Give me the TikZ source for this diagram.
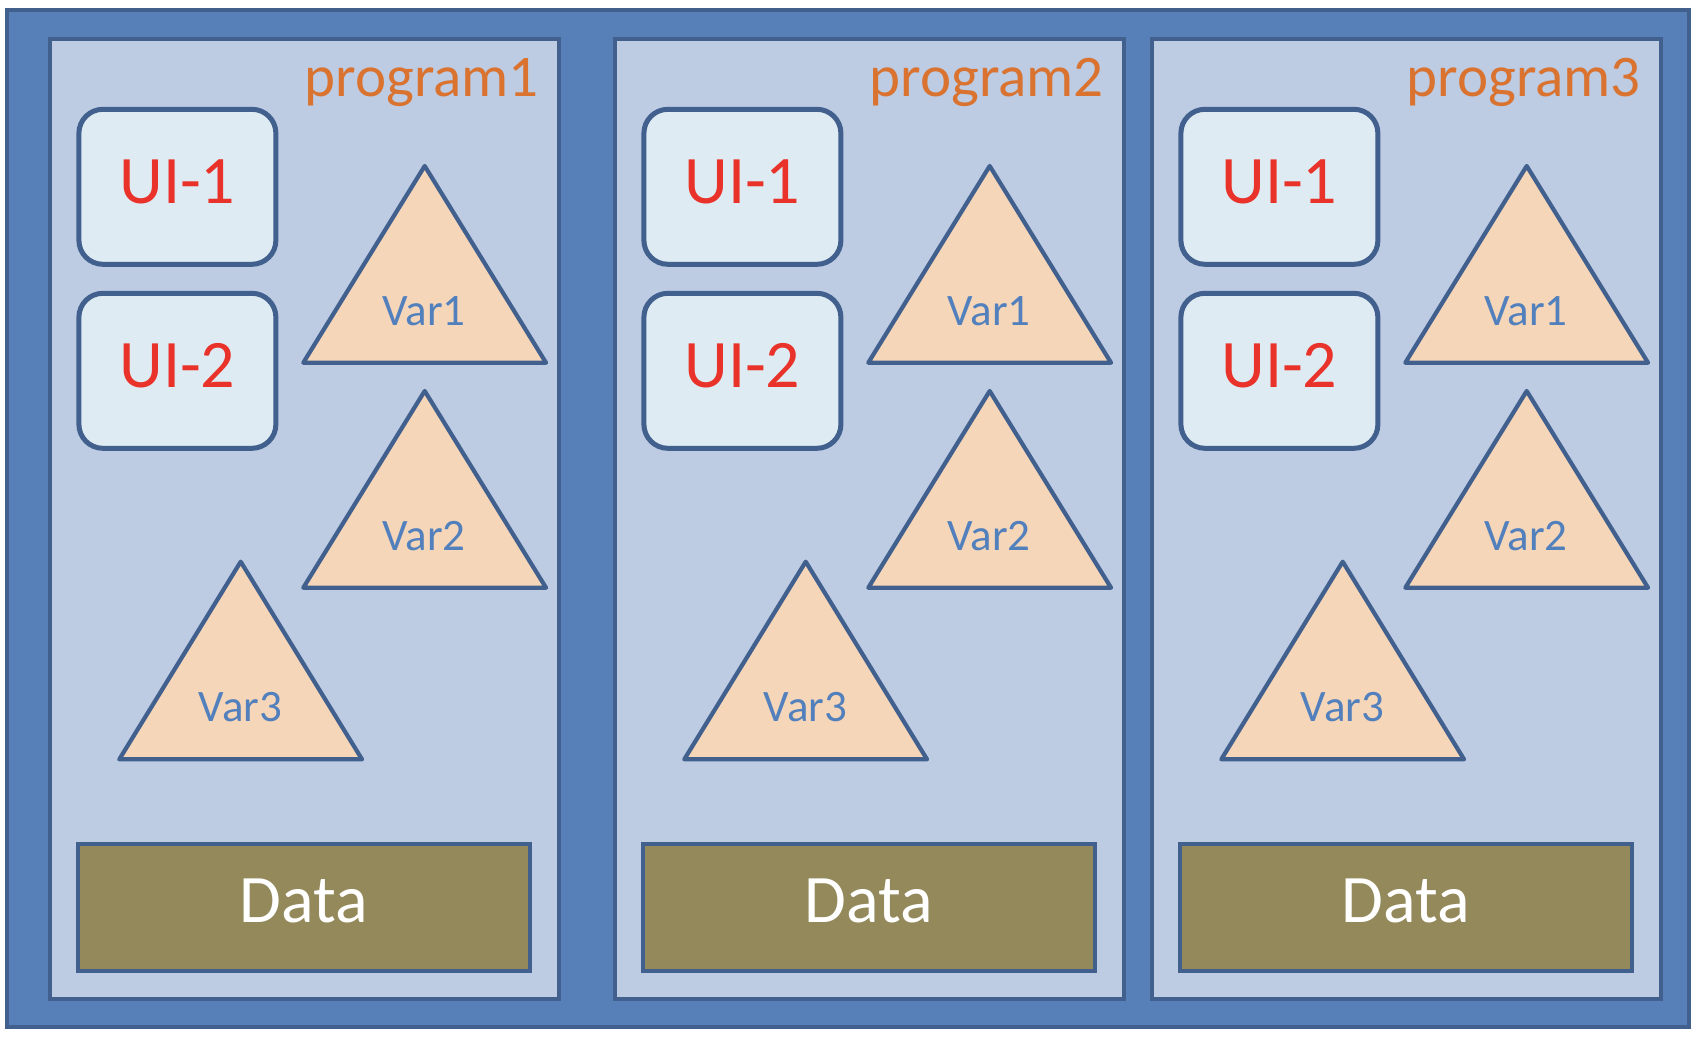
\documentclass[tikz,border=0pt]{standalone}
\usepackage{fontspec}
\setmainfont{Carlito}
\definecolor{outerblue}{HTML}{5880B8}
\definecolor{edgeblue}{HTML}{41608E}
\definecolor{panelfill}{HTML}{BDCBE3}
\definecolor{uifill}{HTML}{DFEBF2}
\definecolor{uired}{HTML}{E8322A}
\definecolor{trifill}{HTML}{F6D6B9}
\definecolor{vartext}{HTML}{5280BC}
\definecolor{progorange}{HTML}{D9732F}
\definecolor{datafill}{HTML}{93895B}
\begin{document}
\begin{tikzpicture}[x=1pt,y=-1pt,
  outerbox/.style={draw=edgeblue, fill=outerblue, line width=4.5pt, minimum width=1682pt, minimum height=1017pt, inner sep=0pt, outer sep=0pt},
  panelbox/.style={draw=edgeblue, fill=panelfill, line width=4.5pt, minimum width=509pt, minimum height=960pt, inner sep=0pt, outer sep=0pt},
  uibox/.style={draw=edgeblue, fill=uifill, line width=5pt, rounded corners=24pt, minimum width=197pt, minimum height=155pt, inner sep=0pt, outer sep=0pt},
  databox/.style={draw=edgeblue, fill=datafill, line width=4.5pt, minimum width=452pt, minimum height=127pt, inner sep=0pt, outer sep=0pt},
  tri/.style={draw=edgeblue, fill=trifill, line width=4.2pt, line join=round},
  uitext/.style={text=uired, font=\fontsize{68}{68}\selectfont, inner sep=0pt, anchor=base},
  vartxt/.style={text=vartext, font=\fontsize{45}{45}\selectfont, inner sep=0pt, anchor=base},
  datatxt/.style={text=white, font=\fontsize{68}{68}\selectfont, inner sep=0pt, anchor=base},
  progtxt/.style={text=progorange, font=\fontsize{59}{59}\selectfont, inner sep=0pt, anchor=base east}
]
\useasboundingbox (0,0) rectangle (1702,1044);
\fill[white] (0,0) rectangle (1702,1044);
\node[outerbox] (outer) at (848,518.5) {};
\foreach \i/\dx in {1/0,2/565,3/1102}{
  \node[panelbox] (panel\i) at (304.5+\dx,519) {};
  \node[progtxt] (prog\i) at (539+\dx,96.7) {program\i};
  \node[uibox] (uia\i) at (177.4+\dx,186.8) {};
  \node[uitext] (uiat\i) at (177.4+\dx,203.3) {UI-1};
  \node[uibox] (uib\i) at (177.4+\dx,370.8) {};
  \node[uitext] (uibt\i) at (177.4+\dx,387.3) {UI-2};
  \draw[tri] (424.7+\dx,166) -- (546+\dx,362.7) -- (303.3+\dx,362.7) -- cycle;
  \node[vartxt] (vara\i) at (424+\dx,325) {Var1};
  \draw[tri] (424.7+\dx,391) -- (546+\dx,587.7) -- (303.3+\dx,587.7) -- cycle;
  \node[vartxt] (varb\i) at (424+\dx,550) {Var2};
  \draw[tri] (240.7+\dx,561.7) -- (362+\dx,759.3) -- (119.3+\dx,759.3) -- cycle;
  \node[vartxt] (varc\i) at (240.5+\dx,721.7) {Var3};
  \node[databox] (data\i) at (304+\dx,907.5) {};
  \node[datatxt] (datat\i) at (304+\dx,922.3) {Data};
}
\end{tikzpicture}
\end{document}
